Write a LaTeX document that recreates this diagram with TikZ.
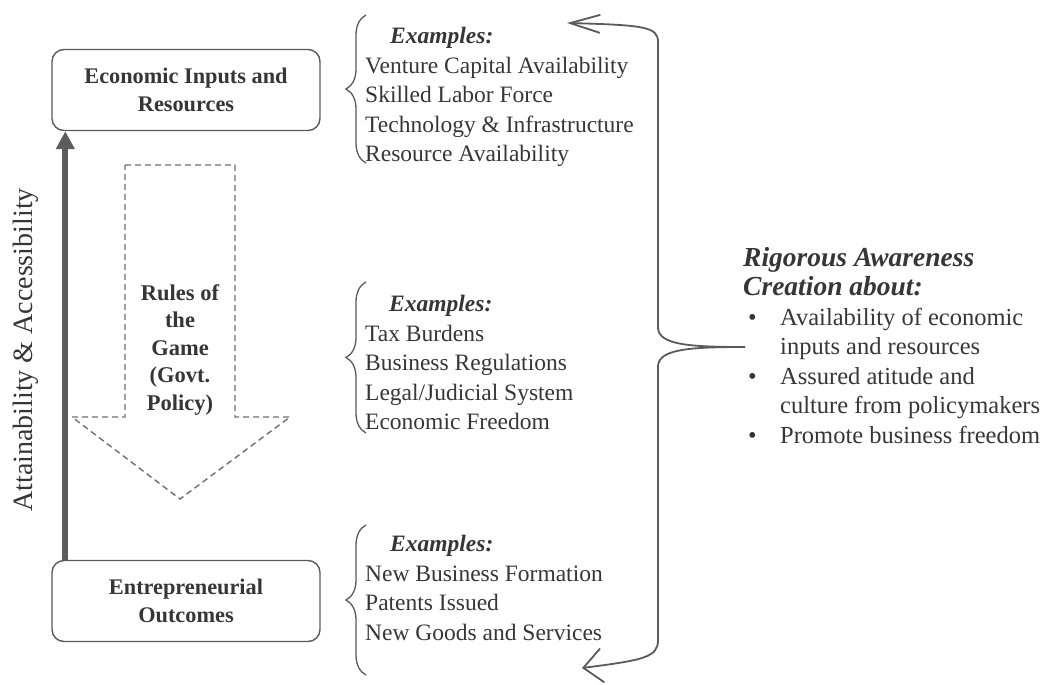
\documentclass[tikz,border=0pt]{standalone}
\usepackage{fontspec}
\setmainfont{Liberation Serif}
\usetikzlibrary{arrows.meta,decorations.pathreplacing}
\definecolor{ink}{HTML}{363636}
\definecolor{edge}{HTML}{5A5A5A}
\definecolor{dashc}{HTML}{6E6E6E}
\definecolor{bar}{HTML}{5C5C5C}

\begin{document}
\begin{tikzpicture}[x=1pt,y=-1pt,
  stage/.style={draw=edge, line width=1.4pt, rounded corners=12pt,
    minimum width=268pt, minimum height=81pt, align=center, inner sep=0pt,
    text=ink, font=\bfseries\fontsize{22.3}{28}\selectfont},
  examples/.style={anchor=north west, align=left, inner sep=0pt, text=ink,
    font=\fontsize{23.5}{29.5}\selectfont},
  curly/.style={draw=edge, line width=1.3pt, decorate,
    decoration={brace, amplitude=20pt}},
  loop/.style={draw=edge, line width=1.8pt},
  policy/.style={draw=dashc, line width=1.4pt, dash pattern=on 6pt off 4pt},
  lift/.style={draw=bar, line width=6pt, -{Triangle[length=18pt,width=18pt]}}
]
\useasboundingbox (0,0) rectangle (1049,685);

% the two stages
\node[stage] (inputs) at (186,90) {Economic Inputs and\\Resources};
\node[stage] (outcomes) at (186,601) {Entrepreneurial\\Outcomes};

% attainability axis
\draw[lift] ([xshift=14pt]outcomes.north west) -- ([xshift=14pt]inputs.south west);
\node[rotate=90, text=ink, font=\fontsize{28}{32}\selectfont] (axis) at (26,350)
  {Attainability \& Accessibility};

% rules of the game: dashed downward arrow
\draw[policy] (125,165) -- (235,165) -- (235,417) -- (290,417) -- (180,499)
  -- (72,417) -- (125,417) -- cycle;
\node[align=center, inner sep=0pt, text=ink,
  font=\bfseries\fontsize{22.5}{27.5}\selectfont] (rules) at (180,350)
  {Rules of\\the\\Game\\(Govt.\\Policy)};

% example lists with their braces
\draw[curly] (366,163) -- (366,15);
\node[examples] (ex1) at (365,27)
  {\hspace*{25pt}\textbf{\textit{Examples:}}\\Venture Capital Availability\\
   Skilled Labor Force\\Technology \& Infrastructure\\Resource Availability};

\draw[curly] (366,433) -- (366,282);
\node[examples] (ex2) at (365,295)
  {\hspace*{24pt}\textbf{\textit{Examples:}}\\Tax Burdens\\Business Regulations\\
   Legal/Judicial System\\Economic Freedom};

\draw[curly] (366,675) -- (366,525);
\node[examples] (ex3) at (365,535)
  {\hspace*{25pt}\textbf{\textit{Examples:}}\\New Business Formation\\
   Patents Issued\\New Goods and Services};

% awareness feedback loop
\coordinate (join) at (745,347);
\coordinate (upper) at (567,23);
\coordinate (lower) at (582,668);
\draw[loop, -{Straight Barb[length=30pt,width=18pt]}] (join)
  .. controls (690,347) and (659,345) .. (658,328) -- (658,42)
  .. controls (658,27) and (645,25) .. (upper);
\draw[loop, -{Straight Barb[length=19pt,width=34pt]}] (join)
  .. controls (690,347) and (659,349) .. (658,366) -- (658,640)
  .. controls (658,657) and (645,660) .. (lower);

% awareness text
\node[anchor=north west, align=left, inner sep=0pt, text=ink,
  font=\fontsize{24.5}{29.5}\selectfont] (aware) at (743,247)
  {{\fontsize{27.5}{29.5}\selectfont\bfseries\itshape Rigorous Awareness}\\
   {\fontsize{27.5}{29.5}\selectfont\bfseries\itshape Creation about:}\\
   \hspace*{5pt}\makebox[32pt][l]{•}Availability of economic\\
   \hspace*{37pt}inputs and resources\\
   \hspace*{5pt}\makebox[32pt][l]{•}Assured atitude and\\
   \hspace*{37pt}culture from policymakers\\
   \hspace*{5pt}\makebox[32pt][l]{•}Promote business freedom};
\end{tikzpicture}
\end{document}
